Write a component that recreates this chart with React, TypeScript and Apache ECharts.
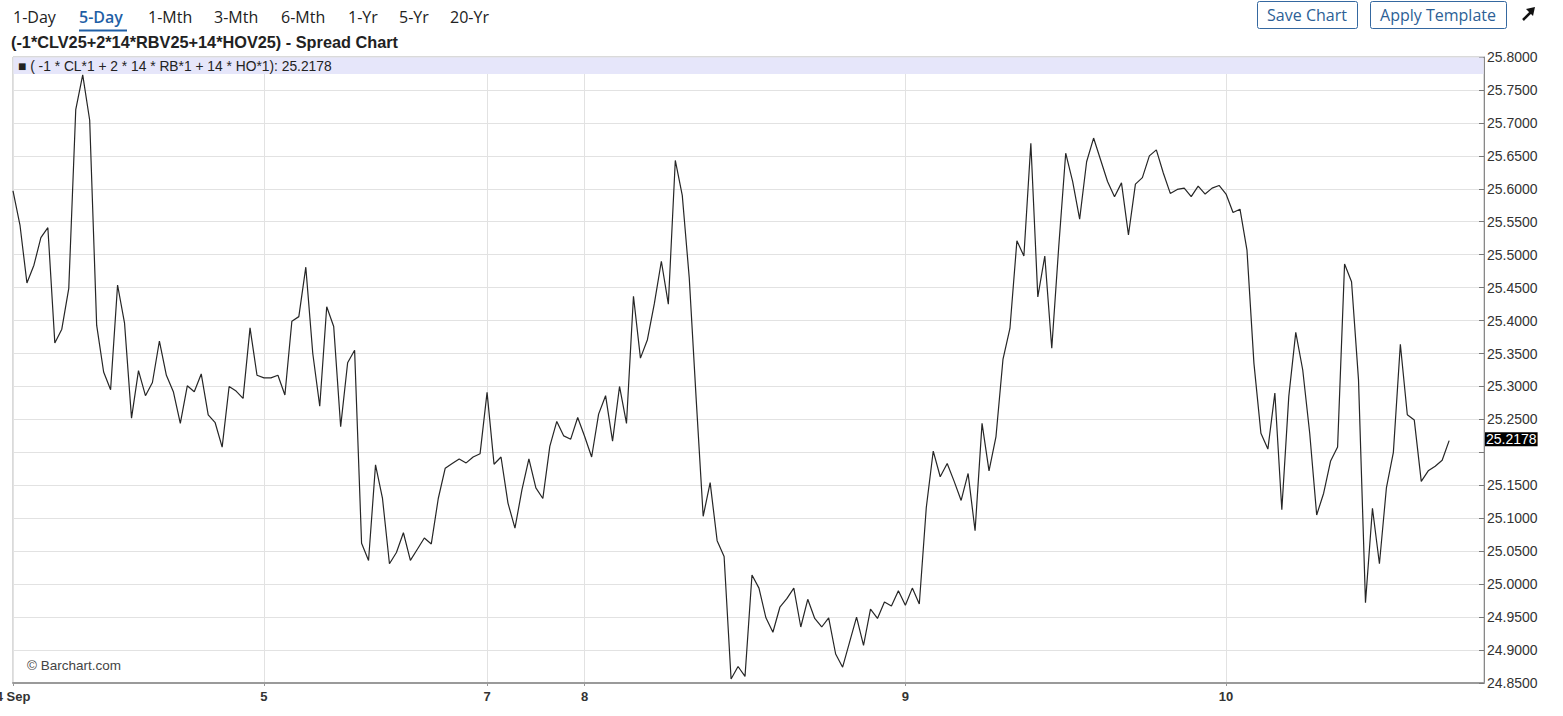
import React, { useEffect, useRef } from "react";
import * as echarts from "echarts";

// 30-minute closes of the spread, 4 Sep .. 10 Sep
const spreadValues = [
  25.597, 25.545, 25.457, 25.484, 25.526, 25.541, 25.366, 25.387, 25.449, 25.72,
  25.773, 25.704, 25.393, 25.322, 25.295, 25.454, 25.396, 25.252, 25.324, 25.286,
  25.306, 25.369, 25.317, 25.292, 25.244, 25.301, 25.292, 25.319, 25.257, 25.245,
  25.208, 25.3, 25.293, 25.282, 25.389, 25.317, 25.313, 25.313, 25.317, 25.287,
  25.399, 25.406, 25.481, 25.35, 25.27, 25.421, 25.391, 25.239, 25.336, 25.355,
  25.062, 25.036, 25.181, 25.13, 25.031, 25.048, 25.078, 25.036, 25.053, 25.07,
  25.061, 25.13, 25.176, 25.183, 25.19, 25.184, 25.193, 25.198, 25.291, 25.182,
  25.193, 25.123, 25.085, 25.143, 25.19, 25.146, 25.13, 25.209, 25.247, 25.225,
  25.22, 25.253, 25.224, 25.193, 25.258, 25.286, 25.217, 25.3, 25.244, 25.437,
  25.343, 25.371, 25.426, 25.49, 25.425, 25.643, 25.59, 25.465, 25.28, 25.103,
  25.154, 25.066, 25.042, 24.856, 24.875, 24.86, 25.014, 24.994, 24.949, 24.927,
  24.965, 24.978, 24.994, 24.935, 24.977, 24.948, 24.935, 24.949, 24.894, 24.874,
  24.912, 24.95, 24.907, 24.962, 24.948, 24.973, 24.967, 24.99, 24.968, 24.994,
  24.97, 25.116, 25.202, 25.163, 25.183, 25.156, 25.127, 25.168, 25.081, 25.244,
  25.172, 25.224, 25.341, 25.388, 25.521, 25.498, 25.669, 25.436, 25.498, 25.358,
  25.512, 25.654, 25.611, 25.554, 25.641, 25.677, 25.644, 25.611, 25.588, 25.609,
  25.53, 25.607, 25.617, 25.65, 25.659, 25.624, 25.593, 25.599, 25.601, 25.588,
  25.604, 25.592, 25.601, 25.605, 25.592, 25.564, 25.569, 25.507, 25.335, 25.229,
  25.205, 25.29, 25.113, 25.285, 25.382, 25.325, 25.229, 25.105, 25.138, 25.187,
  25.208, 25.486, 25.459, 25.31, 24.972, 25.115, 25.031, 25.146, 25.2, 25.364,
  25.257, 25.249, 25.156, 25.172, 25.179, 25.188, 25.2178,
];

const slotCount = 212; // time slots on the axis (data + empty space at right)
const dayTickIndex = [0, 36, 68, 82, 128, 174];
const dayTickLabels = ["4 Sep", "5", "7", "8", "9", "10"];

const yMin = 24.85;
const yMax = 25.8;
const yStep = 0.05;

const rangeTabs = ["1-Day", "5-Day", "1-Mth", "3-Mth", "6-Mth", "1-Yr", "5-Yr", "20-Yr"];
const activeTab = "5-Day";
const chartTitle = "(-1*CLV25+2*14*RBV25+14*HOV25) - Spread Chart";
const legendPrefix = "\u25A0 ( -1 * CL*1 + 2 * 14 * RB*1 + 14 * HO*1): ";
const buttons = ["Save Chart", "Apply Template"];

export default function App() {
  const ref = useRef<HTMLDivElement>(null);

  useEffect(() => {
    if (!ref.current) return;
    const chart = echarts.init(ref.current, null, { renderer: "svg" });

    const slotNames = Array.from({ length: slotCount }, (_, i) => "s" + i);
    const labelAt = (i: number) => {
      const k = dayTickIndex.indexOf(i);
      return k >= 0 ? dayTickLabels[k] : "";
    };
    const isDayTick = (i: number) => dayTickIndex.indexOf(i) >= 0;
    const last = spreadValues[spreadValues.length - 1];

    const tabX = [13, 79, 148, 214, 281, 348, 399, 450];
    const tabGraphics: any[] = rangeTabs.map((t, i) => ({
      type: "text",
      x: tabX[i],
      y: 17,
      style: {
        text: t,
        fill: t === activeTab ? "#1f5fa6" : "#222",
        fontSize: 16,
        fontWeight: t === activeTab ? 600 : 400,
        fontFamily: "Open Sans",
        verticalAlign: "middle",
        align: "left",
      },
    }));

    const btnRects = [
      { x: 1257, w: 100 },
      { x: 1370, w: 136 },
    ];
    const btnGraphics: any[] = [];
    buttons.forEach((b, i) => {
      btnGraphics.push({
        type: "rect",
        shape: { x: btnRects[i].x + 0.5, y: 1.5, width: btnRects[i].w, height: 27, r: 2 },
        style: { fill: "#fff", stroke: "#3568a0", lineWidth: 1 },
      });
      btnGraphics.push({
        type: "text",
        x: btnRects[i].x + btnRects[i].w / 2,
        y: 15,
        style: {
          text: b,
          fill: "#2d5f96",
          fontSize: 16,
          fontFamily: "Open Sans",
          align: "center",
          verticalAlign: "middle",
        },
      });
    });

    chart.setOption({
      animation: false,
      textStyle: { fontFamily: "Liberation Sans" },
      grid: {
        left: 13,
        right: 79,
        top: 57,
        bottom: 33,
        show: true,
        borderColor: "#b5b5b5",
        borderWidth: 1,
        backgroundColor: "transparent",
        containLabel: false,
        outerBoundsMode: "none",
      },
      xAxis: {
        type: "category",
        data: slotNames,
        boundaryGap: false,
        axisLine: { show: true, lineStyle: { color: "#9a9a9a", width: 2 } },
        axisTick: {
          show: true,
          interval: (i: number) => isDayTick(i),
          length: 3,
          lineStyle: { color: "#999" },
        },
        axisLabel: {
          interval: (i: number) => isDayTick(i),
          formatter: (_v: string, i: number) => labelAt(i),
          fontWeight: "bold",
          fontSize: 13,
          color: "#333",
          margin: 7,
          hideOverlap: false,
        },
        splitLine: {
          show: true,
          interval: (i: number) => isDayTick(i),
          lineStyle: { color: "#e2e2e2", width: 1 },
        },
      },
      yAxis: {
        type: "value",
        position: "right",
        min: yMin,
        max: yMax,
        interval: yStep,
        axisLine: { show: true, lineStyle: { color: "#888" } },
        axisTick: { show: true, inside: true, length: 5, lineStyle: { color: "#777" } },
        axisLabel: {
          fontSize: 14,
          color: "#333",
          margin: 3,
          formatter: (v: number) => (Math.abs(v - 25.2) < 1e-6 ? "" : v.toFixed(4)),
        },
        splitLine: { show: true, lineStyle: { color: "#e2e2e2", width: 1 } },
      },
      series: [
        {
          type: "line",
          data: spreadValues,
          showSymbol: false,
          lineStyle: { color: "#262626", width: 1.2 },
          z: 3,
          markLine: {
            silent: true,
            symbol: "none",
            lineStyle: { color: "rgba(0,0,0,0)", width: 0 },
            label: {
              show: true,
              position: "end",
              distance: 1,
              backgroundColor: "#000",
              color: "#fff",
              fontSize: 14,
              padding: [0, 1, 0, 1],
              formatter: () => last.toFixed(4),
            },
            data: [{ yAxis: last }],
          },
        },
      ],
      graphic: [
        ...tabGraphics,
        {
          type: "rect",
          shape: { x: 79, y: 29.5, width: 48, height: 2 },
          style: { fill: "#1f5fa6" },
        },
        {
          type: "text",
          x: 11,
          y: 42,
          style: {
            text: chartTitle,
            fill: "#222",
            fontSize: 16.3,
            fontWeight: "bold",
            fontFamily: "Liberation Sans",
            verticalAlign: "middle",
          },
        },
        ...btnGraphics,
        {
          type: "line",
          shape: { x1: 1523, y1: 20, x2: 1532, y2: 11 },
          style: { stroke: "#111", lineWidth: 2.5 },
        },
        {
          type: "polygon",
          shape: { points: [[1535, 7], [1526, 9], [1533, 16]] },
          style: { fill: "#111" },
        },
        {
          type: "rect",
          z: 1,
          shape: { x: 13.5, y: 57.5, width: 1470, height: 16.5 },
          style: { fill: "#e6e6fa" },
        },
        {
          type: "text",
          z: 4,
          x: 18,
          y: 66.5,
          style: {
            text: legendPrefix + last.toFixed(4),
            fill: "#222",
            fontSize: 13.8,
            fontFamily: "Liberation Sans",
            verticalAlign: "middle",
          },
        },
        {
          type: "text",
          z: 4,
          x: 27,
          y: 665,
          style: {
            text: "\u00A9 Barchart.com",
            fill: "#444",
            fontSize: 13.5,
            fontFamily: "Liberation Sans",
            verticalAlign: "middle",
          },
        },
      ],
    });

    return () => chart.dispose();
  }, []);

  return (
    <div
      ref={ref}
      style={{ position: "absolute", left: 0, top: 0, width: 1563, height: 716, background: "#fff" }}
    />
  );
}
